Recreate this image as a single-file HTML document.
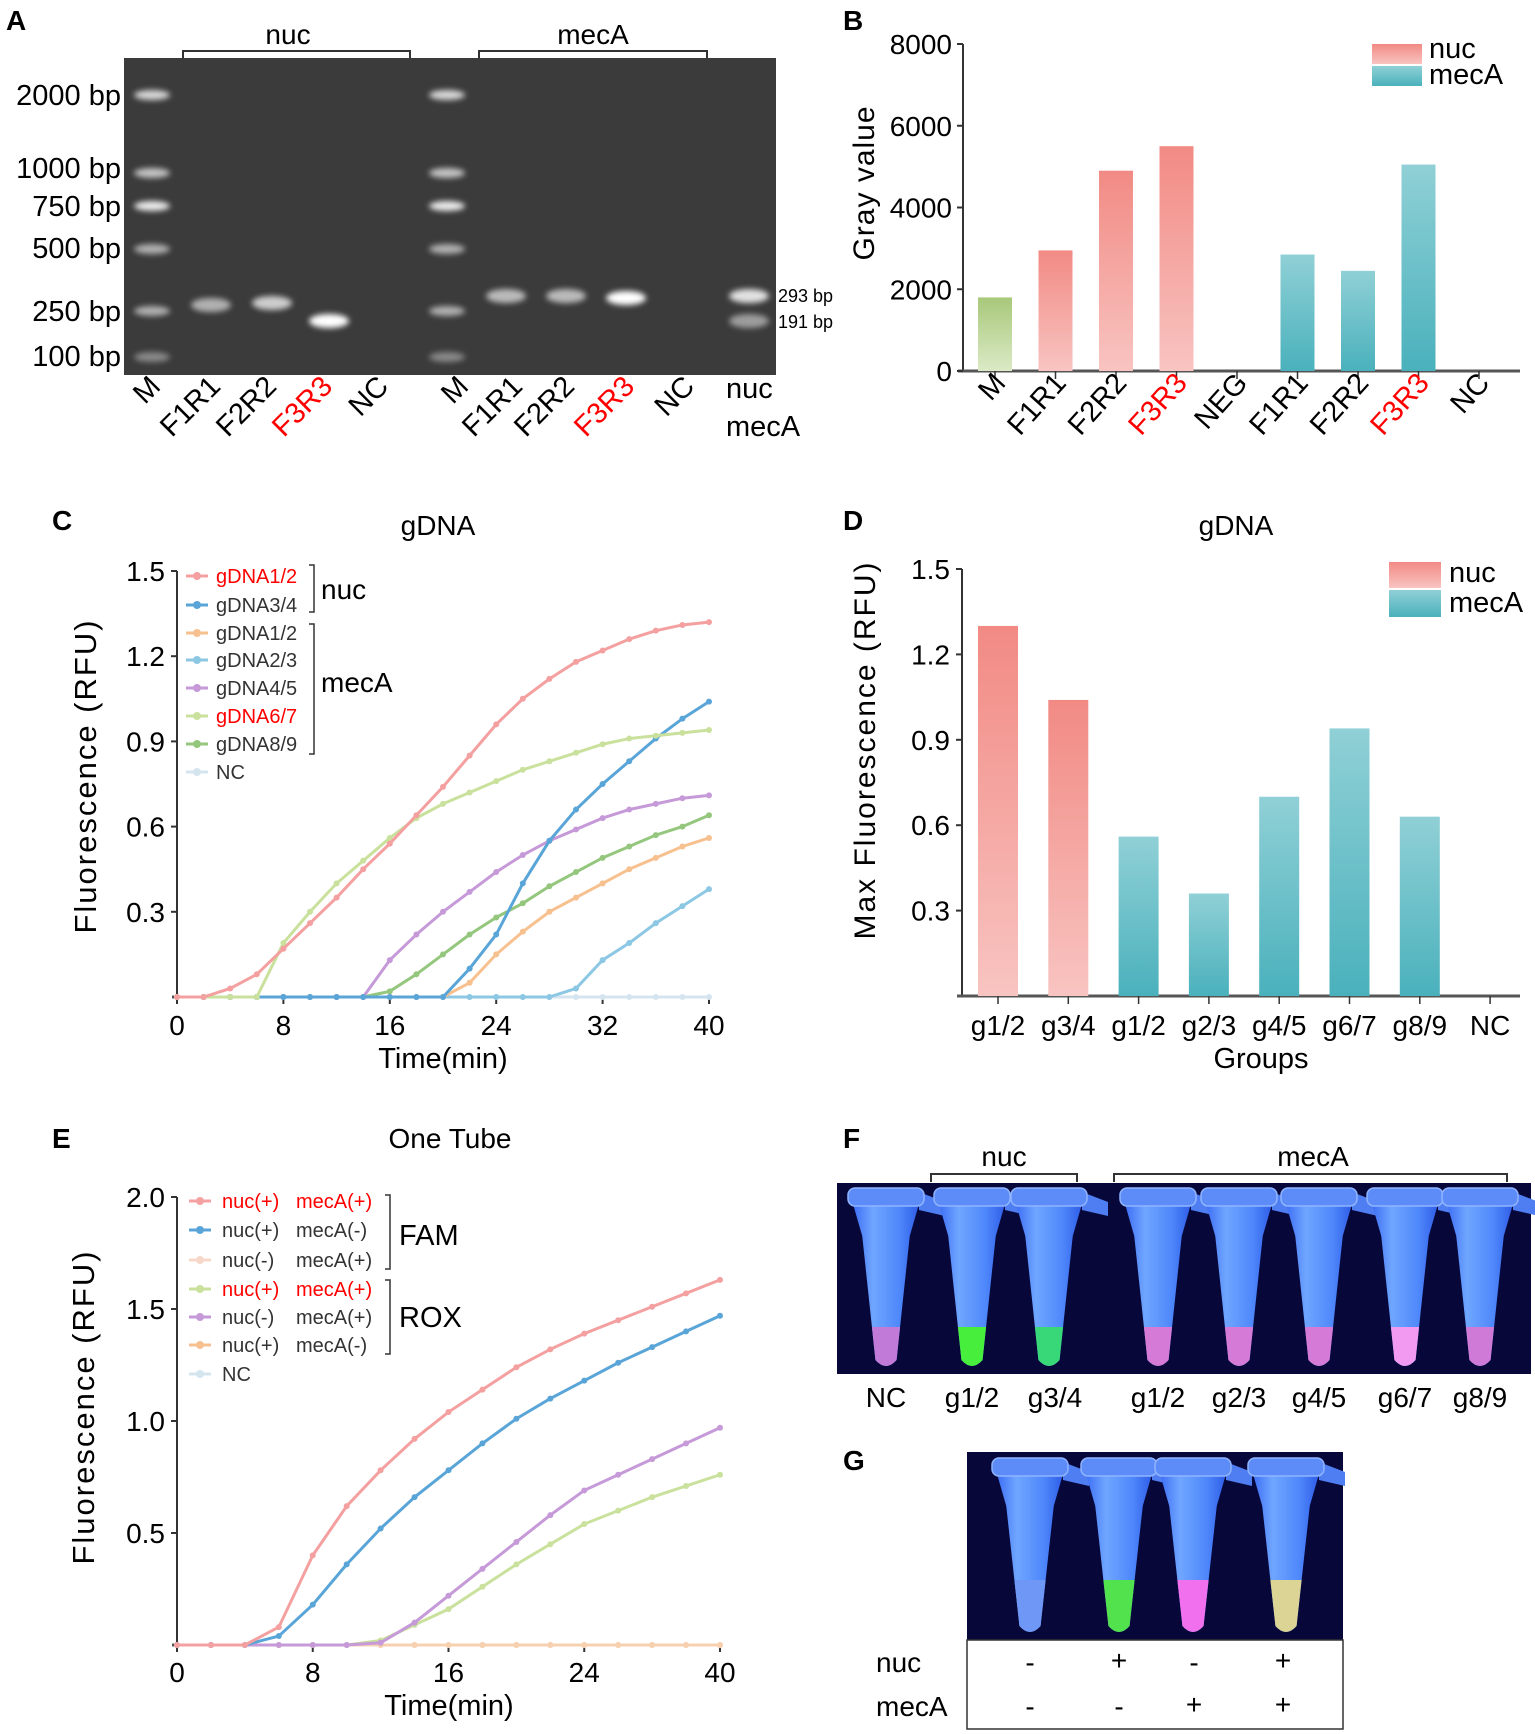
<!DOCTYPE html>
<html><head><meta charset="utf-8">
<style>
html,body{margin:0;padding:0;background:#fff;}
svg{display:block;font-family:"Liberation Sans",Arial,sans-serif;}
</style></head>
<body>
<svg id="fig" width="1535" height="1734" viewBox="0 0 1535 1734" xmlns="http://www.w3.org/2000/svg">
<defs>
<linearGradient id="gNuc" x1="0" y1="0" x2="0" y2="1"><stop offset="0" stop-color="#f28a84"/><stop offset="1" stop-color="#f8c4c1"/></linearGradient>
<linearGradient id="gMec" x1="0" y1="0" x2="0" y2="1"><stop offset="0" stop-color="#90d0d6"/><stop offset="1" stop-color="#4ab1bc"/></linearGradient>
<linearGradient id="gM" x1="0" y1="0" x2="0" y2="1"><stop offset="0" stop-color="#a8c87a"/><stop offset="1" stop-color="#dbeac6"/></linearGradient>
<linearGradient id="gTube" x1="0" y1="0" x2="1" y2="0"><stop offset="0" stop-color="#3d6ef5"/><stop offset="0.3" stop-color="#6fa6ff"/><stop offset="0.7" stop-color="#4f88fb"/><stop offset="1" stop-color="#2f5de8"/></linearGradient>
<filter id="blur"><feGaussianBlur stdDeviation="3"/></filter>
</defs>

<g font-weight="bold" font-size="28" fill="#000">
<text x="6" y="30">A</text>
<text x="843" y="30">B</text>
<text x="52" y="530">C</text>
<text x="843" y="530">D</text>
<text x="52" y="1148">E</text>
<text x="843" y="1148">F</text>
<text x="843" y="1470">G</text>
</g>

<g id="panelA">
<rect x="124" y="58" width="652" height="317" fill="#3b3b3b"/>
<path d="M183,58 V51 H410 V58" fill="none" stroke="#333" stroke-width="2"/>
<path d="M479,58 V51 H707 V58" fill="none" stroke="#333" stroke-width="2"/>
<text x="288" y="44" font-size="28" text-anchor="middle">nuc</text>
<text x="593" y="44" font-size="28" text-anchor="middle">mecA</text>
<g font-size="29" text-anchor="end">
<text x="121" y="105">2000 bp</text>
<text x="121" y="178">1000 bp</text>
<text x="121" y="216">750 bp</text>
<text x="121" y="258">500 bp</text>
<text x="121" y="321">250 bp</text>
<text x="121" y="366">100 bp</text>
</g>
<text x="778" y="302" font-size="18">293 bp</text>
<text x="778" y="328" font-size="18">191 bp</text>
<g id="bands" filter="url(#blur)"></g>
<g id="laneLabels" font-size="29"></g>
<text x="726" y="398" font-size="29">nuc</text>
<text x="726" y="436" font-size="29">mecA</text>
</g>

<g id="panelB"></g>
<g id="panelC"></g>
<g id="panelD"></g>
<g id="panelE"></g>

<g id="panelF">
<path d="M931,1182 V1174 H1077 V1182" fill="none" stroke="#333" stroke-width="2"/>
<path d="M1114,1182 V1174 H1507 V1182" fill="none" stroke="#333" stroke-width="2"/>
<text x="1004" y="1166" font-size="28" text-anchor="middle">nuc</text>
<text x="1313" y="1166" font-size="28" text-anchor="middle">mecA</text>
<rect x="837" y="1183" width="694" height="191" fill="#07073a"/>
<g id="tubesF"></g>
<g font-size="28" text-anchor="middle">
<text x="886" y="1407">NC</text>
<text x="972" y="1407">g1/2</text>
<text x="1055" y="1407">g3/4</text>
<text x="1158" y="1407">g1/2</text>
<text x="1239" y="1407">g2/3</text>
<text x="1319" y="1407">g4/5</text>
<text x="1405" y="1407">g6/7</text>
<text x="1480" y="1407">g8/9</text>
</g>
</g>

<g id="panelG">
<rect x="967" y="1452" width="376" height="188" fill="#07073a"/>
<g id="tubesG"></g>
<rect x="967" y="1640" width="376" height="89" fill="none" stroke="#333" stroke-width="1.5"/>
<g font-size="28">
<text x="876" y="1672">nuc</text>
<text x="876" y="1716">mecA</text>
</g>
<g font-size="28" text-anchor="middle">
<text x="1030" y="1672">-</text>
<text x="1119" y="1670">+</text>
<text x="1194" y="1672">-</text>
<text x="1283" y="1670">+</text>
<text x="1030" y="1716">-</text>
<text x="1119" y="1716">-</text>
<text x="1194" y="1714">+</text>
<text x="1283" y="1714">+</text>
</g>
</g>
</svg>

<script>
// ---------- Panel B data ----------
const bCategories = ["M","F1R1","F2R2","F3R3","NEG","F1R1","F2R2","F3R3","NC"];
const bValues = [1800,2950,4900,5500,0,2850,2450,5050,0];
const bGroups = ["M","nuc","nuc","nuc","none","mecA","mecA","mecA","none"];
const bHighlight = [false,false,false,true,false,false,false,true,false];
const bTicks = [0,2000,4000,6000,8000];

// ---------- Panel C data ----------
const cTimes = [0,2,4,6,8,10,12,14,16,18,20,22,24,26,28,30,32,34,36,38,40];
const cNuc12 = [0,0,0.03,0.08,0.17,0.26,0.35,0.45,0.54,0.64,0.74,0.85,0.96,1.05,1.12,1.18,1.22,1.26,1.29,1.31,1.32];
const cNuc34 = [0,0,0,0,0,0,0,0,0,0,0,0.10,0.22,0.40,0.55,0.66,0.75,0.83,0.91,0.98,1.04];
const cMec12 = [0,0,0,0,0,0,0,0,0,0,0,0.05,0.15,0.23,0.30,0.35,0.40,0.45,0.49,0.53,0.56];
const cMec23 = [0,0,0,0,0,0,0,0,0,0,0,0,0,0,0,0.03,0.13,0.19,0.26,0.32,0.38];
const cMec45 = [0,0,0,0,0,0,0,0,0.13,0.22,0.30,0.37,0.44,0.50,0.55,0.59,0.63,0.66,0.68,0.70,0.71];
const cMec67 = [0,0,0,0,0.19,0.30,0.40,0.48,0.56,0.63,0.68,0.72,0.76,0.80,0.83,0.86,0.89,0.91,0.92,0.93,0.94];
const cMec89 = [0,0,0,0,0,0,0,0,0.02,0.08,0.15,0.22,0.28,0.33,0.39,0.44,0.49,0.53,0.57,0.60,0.64];
const cNC = [0,0,0,0,0,0,0,0,0,0,0,0,0,0,0,0,0,0,0,0,0];
const cXTicks = [0,8,16,24,32,40];
const cYTicks = [0.3,0.6,0.9,1.2,1.5];
const cLegendLabels = ["gDNA1/2","gDNA3/4","gDNA1/2","gDNA2/3","gDNA4/5","gDNA6/7","gDNA8/9","NC"];

// ---------- Panel D data ----------
const dCategories = ["g1/2","g3/4","g1/2","g2/3","g4/5","g6/7","g8/9","NC"];
const dValues = [1.30,1.04,0.56,0.36,0.70,0.94,0.63,0];
const dGroups = ["nuc","nuc","mecA","mecA","mecA","mecA","mecA","none"];
const dYTicks = [0.3,0.6,0.9,1.2,1.5];

// ---------- Panel E data ----------
const eTimes = [0,2,4,6,8,10,12,14,16,18,20,22,24,26,28,30,32];
const eFamPP = [0,0,0,0.08,0.40,0.62,0.78,0.92,1.04,1.14,1.24,1.32,1.39,1.45,1.51,1.57,1.63];
const eFamPM = [0,0,0,0.04,0.18,0.36,0.52,0.66,0.78,0.90,1.01,1.10,1.18,1.26,1.33,1.40,1.47];
const eFamMP = [0,0,0,0,0,0,0,0,0,0,0,0,0,0,0,0,0];
const eRoxPP = [0,0,0,0,0,0,0.02,0.09,0.16,0.26,0.36,0.45,0.54,0.60,0.66,0.71,0.76];
const eRoxMP = [0,0,0,0,0,0,0.01,0.10,0.22,0.34,0.46,0.58,0.69,0.76,0.83,0.90,0.97];
const eRoxPM = [0,0,0,0,0,0,0,0,0,0,0,0,0,0,0,0,0];
const eNC = [0,0,0,0,0,0,0,0,0,0,0,0,0,0,0,0,0];
const eXTicks = [0,8,16,24,32];
const eXTickLabels = ["0","8","16","24","40"];
const eYTicks = [0.5,1.0,1.5,2.0];
const eYTickLabels = ["0.5","1.0","1.5","2.0"];
const eLegendA = ["nuc(+)","nuc(+)","nuc(-)","nuc(+)","nuc(-)","nuc(+)","NC"];
const eLegendB = ["mecA(+)","mecA(-)","mecA(+)","mecA(+)","mecA(+)","mecA(-)",""];

// ---------- Gel data ----------
const ladderSizes = ["2000","1000","750","500","250","100"];
const laneNames = ["M","F1R1","F2R2","F3R3","NC","M","F1R1","F2R2","F3R3","NC"];

const NS = "http://www.w3.org/2000/svg";
function mk(tag, attrs, parent){
  const e = document.createElementNS(NS, tag);
  for (const k in attrs) e.setAttribute(k, attrs[k]);
  parent.appendChild(e);
  return e;
}
const gradFor = g => g==="nuc" ? "url(#gNuc)" : g==="mecA" ? "url(#gMec)" : "url(#gM)";

(function(){
  const bands = document.getElementById('bands');
  const ladderY = [95,173,206,249,311,357];
  const ladderW = [0.8,0.7,0.9,0.6,0.6,0.4];
  [152,447].forEach(function(lx){
    ladderY.forEach(function(y,i){
      const el = mk('ellipse',{cx:lx,cy:y,rx:18,ry:5,fill:"#ffffff",opacity:ladderW[i]},bands);
      
      
    });
  });
  const sampleBands = [[211,305,0.6],[272,303,0.75],[329,321,1],[506,296,0.65],[566,296,0.65],[626,298,1],[749,296,0.85],[749,321,0.5]];
  sampleBands.forEach(function(b){
    const el = mk('ellipse',{cx:b[0],cy:b[1],rx:20,ry:7,fill:"#ffffff",opacity:b[2]},bands);
    
    
  });
  const ll = document.getElementById('laneLabels');
  const ends = [162,222,278,334,390,470,524,576,636,696];
  laneNames.forEach(function(n,i){
    const t = mk('text',{x:ends[i],y:388,'text-anchor':'end',transform:'rotate(-45 '+ends[i]+' 388)',fill:(n==="F3R3"?"#ff0000":"#000")},ll);
    t.textContent = n;
    
    
  });
})();

// ---------- Panel B ----------
(function(){
  const g = document.getElementById('panelB');
  const x0 = 995, step = 60.5, y0 = 371, h = 327;
  const ys = v => y0 - v/8000*h;
  const ax = mk('line',{x1:963,y1:ys(8000),x2:963,y2:y0,stroke:"#333","stroke-width":2},g);
   
  const xa = mk('line',{x1:958,y1:y0,x2:1520,y2:y0,stroke:"#555","stroke-width":3},g);
   
  bTicks.forEach(function(v){
    const tk = mk('line',{x1:957,y1:ys(v),x2:963,y2:ys(v),stroke:"#333","stroke-width":2},g);
     
    const t = mk('text',{x:952,y:ys(v)+10,'font-size':28,'text-anchor':'end'},g);
    t.textContent = v;
     
  });
  const yt = mk('text',{x:0,y:0,'font-size':30,'text-anchor':'middle',transform:'translate(874 183) rotate(-90)','letter-spacing':'1'},g);
  yt.textContent = "Gray value";
   
  bCategories.forEach(function(c,i){
    const cx = x0 + i*step;
    if (bValues[i] > 0){
      const r = mk('rect',{x:cx-17,y:ys(bValues[i]),width:34,height:y0-ys(bValues[i]),fill:gradFor(bGroups[i])},g);
      
      
    }
    const tk = mk('line',{x1:cx,y1:y0,x2:cx,y2:y0+8,stroke:"#333","stroke-width":1.5},g);
     
    const lx = cx+12, ly = 384;
    const t = mk('text',{x:lx,y:ly,'font-size':29,'text-anchor':'end',transform:'rotate(-48 '+lx+' '+ly+')',fill:bHighlight[i]?"#ff0000":"#000"},g);
    t.textContent = c;
     
  });
  const l1 = mk('rect',{x:1372,y:44,width:50,height:20,fill:"url(#gNuc)"},g);
   
  const l2 = mk('rect',{x:1372,y:66,width:50,height:20,fill:"url(#gMec)"},g);
   
  const t1 = mk('text',{x:1429,y:58,'font-size':29},g); t1.textContent="nuc";
   
  const t2 = mk('text',{x:1429,y:84,'font-size':29},g); t2.textContent="mecA";
   
})();

function drawSeries(g, times, vals, xs, ys, color, name){
  const pts = times.map((t,i)=>xs(t)+","+ys(vals[i])).join(" ");
  const pl = mk('polyline',{points:pts,fill:"none",stroke:color,"stroke-width":3},g);
  
  
  times.forEach(function(t,i){
    const m = mk('circle',{cx:xs(t),cy:ys(vals[i]),r:3,fill:color},g);
    
    
  });
}

// ---------- Panel C ----------
(function(){
  const g = document.getElementById('panelC');
  const xs = t => 177 + t/40*532;
  const ys = v => 997 - v/1.5*426;
  const title = mk('text',{x:438,y:535,'font-size':28,'text-anchor':'middle'},g); title.textContent="gDNA";
   
  const ya = mk('line',{x1:177,y1:ys(1.5),x2:177,y2:997,stroke:"#333","stroke-width":2},g);
   
  const xa = mk('line',{x1:172,y1:997,x2:709,y2:997,stroke:"#555","stroke-width":3},g);
   
  cYTicks.forEach(function(v){
    const tk = mk('line',{x1:171,y1:ys(v),x2:177,y2:ys(v),stroke:"#333","stroke-width":2},g);
     
    const t = mk('text',{x:165,y:ys(v)+10,'font-size':28,'text-anchor':'end'},g); t.textContent=v.toFixed(1);
     
  });
  cXTicks.forEach(function(v){
    const tk = mk('line',{x1:xs(v),y1:997,x2:xs(v),y2:1004,stroke:"#333","stroke-width":2},g);
     
    const t = mk('text',{x:xs(v),y:1035,'font-size':28,'text-anchor':'middle'},g); t.textContent=v;
     
  });
  const xt = mk('text',{x:443,y:1068,'font-size':29,'text-anchor':'middle'},g); xt.textContent="Time(min)";
   
  const yt = mk('text',{x:0,y:0,'font-size':31,'text-anchor':'middle',transform:'translate(96 776) rotate(-90)','letter-spacing':'2'},g);
  yt.textContent="Fluorescence (RFU)";
   
  const series = [cNC,cMec23,cMec12,cMec89,cMec45,cNuc34,cMec67,cNuc12];
  const colors = ["#d5e5f0","#8cc7e3","#f7c08f","#94c77d","#c69ad8","#5aa5d8","#c9e19c","#f4a0a0"];
  const names = ["c-nc","c-meca-gdna23","c-meca-gdna12","c-meca-gdna89","c-meca-gdna45","c-nuc-gdna34","c-meca-gdna67","c-nuc-gdna12"];
  series.forEach(function(s,i){ drawSeries(g,cTimes,s,xs,ys,colors[i],names[i]); });
  const legColors = ["#f4a0a0","#5aa5d8","#f7c08f","#8cc7e3","#c69ad8","#c9e19c","#94c77d","#d5e5f0"];
  const legY = [576,605,633,660,688,716,744,772];
  const legRed = [true,false,false,false,false,true,false,false];
  cLegendLabels.forEach(function(lbl,i){
    const ln = mk('line',{x1:186,y1:legY[i],x2:208,y2:legY[i],stroke:legColors[i],"stroke-width":3},g);
     
    const c = mk('circle',{cx:197,cy:legY[i],r:4,fill:legColors[i]},g);
     
    const t = mk('text',{x:216,y:legY[i]+7,'font-size':20,fill:legRed[i]?"#ff0000":"#333"},g); t.textContent=lbl;
     
  });
  const b1 = mk('path',{d:"M309,565 H314 V612 H309",fill:"none",stroke:"#333","stroke-width":1.5},g);
   
  const b2 = mk('path',{d:"M309,624 H314 V754 H309",fill:"none",stroke:"#333","stroke-width":1.5},g);
   
  const n1 = mk('text',{x:321,y:599,'font-size':28},g); n1.textContent="nuc";
   
  const n2 = mk('text',{x:321,y:692,'font-size':28},g); n2.textContent="mecA";
   
})();

// ---------- Panel D ----------
(function(){
  const g = document.getElementById('panelD');
  const y0 = 996;
  const ys = v => y0 - v/1.5*427;
  const title = mk('text',{x:1236,y:535,'font-size':28,'text-anchor':'middle'},g); title.textContent="gDNA";
   
  const ya = mk('line',{x1:962,y1:ys(1.5),x2:962,y2:y0,stroke:"#333","stroke-width":2},g);
   
  const xa = mk('line',{x1:957,y1:y0,x2:1520,y2:y0,stroke:"#555","stroke-width":3},g);
   
  dYTicks.forEach(function(v){
    const tk = mk('line',{x1:956,y1:ys(v),x2:962,y2:ys(v),stroke:"#333","stroke-width":2},g);
     
    const t = mk('text',{x:950,y:ys(v)+10,'font-size':28,'text-anchor':'end'},g); t.textContent=v.toFixed(1);
     
  });
  dCategories.forEach(function(c,i){
    const cx = 998 + i*70.3;
    if (dValues[i] > 0){
      const r = mk('rect',{x:cx-20,y:ys(dValues[i]),width:40,height:y0-ys(dValues[i]),fill:gradFor(dGroups[i])},g);
      
      
    }
    const tk = mk('line',{x1:cx,y1:y0,x2:cx,y2:y0+8,stroke:"#333","stroke-width":1.5},g);
     
    const t = mk('text',{x:cx,y:1035,'font-size':28,'text-anchor':'middle'},g); t.textContent=c;
     
  });
  const xt = mk('text',{x:1261,y:1068,'font-size':29,'text-anchor':'middle'},g); xt.textContent="Groups";
   
  const yt = mk('text',{x:0,y:0,'font-size':30,'text-anchor':'middle',transform:'translate(875 750) rotate(-90)','letter-spacing':'2'},g);
  yt.textContent="Max Fluorescence (RFU)";
   
  const l1 = mk('rect',{x:1389,y:562,width:52,height:26,fill:"url(#gNuc)"},g);
   
  const l2 = mk('rect',{x:1389,y:590,width:52,height:27,fill:"url(#gMec)"},g);
   
  const t1 = mk('text',{x:1449,y:582,'font-size':29},g); t1.textContent="nuc";
   
  const t2 = mk('text',{x:1449,y:612,'font-size':29},g); t2.textContent="mecA";
   
})();

// ---------- Panel E ----------
(function(){
  const g = document.getElementById('panelE');
  const xs = t => 177 + t/32*543;
  const ys = v => 1645 - v/2*448;
  const title = mk('text',{x:450,y:1148,'font-size':28,'text-anchor':'middle'},g); title.textContent="One Tube";
   
  const ya = mk('line',{x1:177,y1:ys(2),x2:177,y2:1645,stroke:"#333","stroke-width":2},g);
   
  const xa = mk('line',{x1:172,y1:1645,x2:720,y2:1645,stroke:"#555","stroke-width":3},g);
   
  eYTicks.forEach(function(v,i){
    const tk = mk('line',{x1:171,y1:ys(v),x2:177,y2:ys(v),stroke:"#333","stroke-width":2},g);
     
    const t = mk('text',{x:165,y:ys(v)+10,'font-size':28,'text-anchor':'end'},g); t.textContent=eYTickLabels[i];
     
  });
  eXTicks.forEach(function(v,i){
    const tk = mk('line',{x1:xs(v),y1:1645,x2:xs(v),y2:1652,stroke:"#333","stroke-width":2},g);
     
    const t = mk('text',{x:xs(v),y:1682,'font-size':28,'text-anchor':'middle'},g); t.textContent=eXTickLabels[i];
     
  });
  const xt = mk('text',{x:449,y:1715,'font-size':29,'text-anchor':'middle'},g); xt.textContent="Time(min)";
   
  const yt = mk('text',{x:0,y:0,'font-size':31,'text-anchor':'middle',transform:'translate(94 1407) rotate(-90)','letter-spacing':'2'},g);
  yt.textContent="Fluorescence (RFU)";
   
  const series = [eNC,eFamMP,eRoxPM,eRoxPP,eRoxMP,eFamPM,eFamPP];
  const colors = ["#e0ecf4","#f7d8c8","#f7d0b0","#c9e19c","#c69ad8","#5aa5d8","#f4a0a0"];
  const names = ["e-nc","e-fam-nuc-neg-meca-pos","e-rox-nuc-pos-meca-neg","e-rox-nuc-pos-meca-pos","e-rox-nuc-neg-meca-pos","e-fam-nuc-pos-meca-neg","e-fam-nuc-pos-meca-pos"];
  series.forEach(function(s,i){ drawSeries(g,eTimes,s,xs,ys,colors[i],names[i]); });
  const legColors = ["#f4a0a0","#5aa5d8","#f7d8c8","#c9e19c","#c69ad8","#f7c08f","#d5e5f0"];
  const legY = [1201,1230,1260,1289,1317,1345,1374];
  const legRed = [true,false,false,true,false,false,false];
  eLegendA.forEach(function(a,i){
    const ln = mk('line',{x1:189,y1:legY[i],x2:211,y2:legY[i],stroke:legColors[i],"stroke-width":3},g);
     
    const c = mk('circle',{cx:200,cy:legY[i],r:4,fill:legColors[i]},g);
     
    const t = mk('text',{x:222,y:legY[i]+7,'font-size':20,fill:legRed[i]?"#ff0000":"#333"},g); t.textContent=a;
     
    const t2 = mk('text',{x:296,y:legY[i]+7,'font-size':20,fill:legRed[i]?"#ff0000":"#333"},g); t2.textContent=eLegendB[i];
     
  });
  const b1 = mk('path',{d:"M385,1195 H390 V1269 H385",fill:"none",stroke:"#333","stroke-width":1.5},g);
   
  const b2 = mk('path',{d:"M385,1280 H390 V1354 H385",fill:"none",stroke:"#333","stroke-width":1.5},g);
   
  const n1 = mk('text',{x:399,y:1245,'font-size':29},g); n1.textContent="FAM";
   
  const n2 = mk('text',{x:399,y:1327,'font-size':29},g); n2.textContent="ROX";
   
})();

// ---------- Tubes ----------
function drawTube(parent, cx, y0, y1, lvl, w, liquid, name){
  const tab = mk('path',{d:"M"+(cx+w/2)+","+(y0-4)+" l26,10 l0,14 l-26,-6 z",fill:"#4f7ef2"},parent);
   
  const body = mk('path',{d:"M"+(cx-w/2)+","+(y0+8)+" L"+(cx+w/2)+","+(y0+8)+" L"+(cx+w*0.36)+","+(y0+40)+" L"+(cx+w*0.16)+","+(y1-8)+" Q"+cx+","+(y1+4)+" "+(cx-w*0.16)+","+(y1-8)+" L"+(cx-w*0.36)+","+(y0+40)+" Z",fill:"url(#gTube)"},parent);
   
  const cap = mk('rect',{x:cx-w/2-5,y:y0-8,width:w+10,height:18,rx:7,fill:"#5d8cf8",stroke:"#8fb4ff","stroke-width":1.5},parent);
   
  const f = (lvl-(y0+40))/((y1-8)-(y0+40));
  const hw = w*0.36 - f*(w*0.36 - w*0.16);
  const liq = mk('path',{d:"M"+(cx-hw)+","+lvl+" L"+(cx+hw)+","+lvl+" L"+(cx+w*0.16)+","+(y1-8)+" Q"+cx+","+(y1+4)+" "+(cx-w*0.16)+","+(y1-8)+" Z",fill:liquid},parent);
   
}
(function(){
  const gf = document.getElementById('tubesF');
  const fx = [886,972,1049,1158,1239,1319,1405,1480];
  const fc = ["#c27ad8","#48ee3c","#38d878","#d67ad8","#d67ad8","#d67ad8","#f29af2","#d07ad8"];
  fx.forEach(function(x,i){ drawTube(gf,x,1196,1368,1327,66,fc[i],'f-tube-'+(i+1)); });
  const gg = document.getElementById('tubesG');
  const gx = [1030,1119,1193,1286];
  const gc = ["#6f97f5","#52e24e","#f070ee","#dcd494"];
  gx.forEach(function(x,i){ drawTube(gg,x,1466,1634,1580,66,gc[i],'g-tube-'+(i+1)); });
})();
</script>
</body></html>
